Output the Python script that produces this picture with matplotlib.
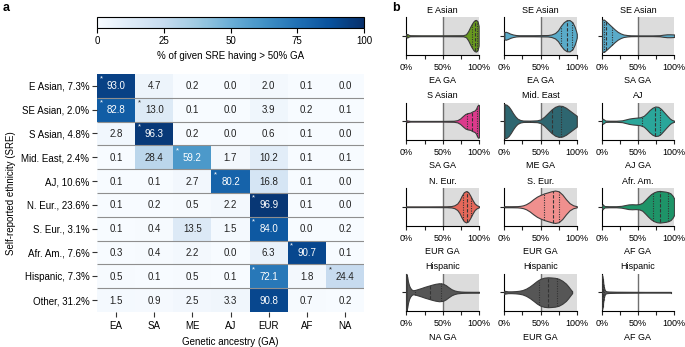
"""
Two-panel figure: (a) heatmap of % of each self-reported ethnicity (SRE)
having > 50% of a given genetic ancestry (GA); (b) small violin plots of the
GA fraction for the starred cells.
"""

import matplotlib

matplotlib.use("Agg")  # headless
import matplotlib.pyplot as plt
import numpy as np


# ---------- Configuration -----------------------------------------------------

FIG_W, FIG_H, DPI = 685, 347, 100
OUT_PNG = "out.png"
SMALL_FS = 6.5  # text size in panel b

plt.rcParams["font.family"] = ["Liberation Sans", "DejaVu Sans"]
plt.rcParams["font.size"] = 7
plt.rcParams["axes.linewidth"] = 0.8


# ---------- Data: panel a -----------------------------------------------------

SRE_LABELS = [
    "E Asian, 7.3%", "SE Asian, 2.0%", "S Asian, 4.8%", "Mid. East, 2.4%",
    "AJ, 10.6%", "N. Eur., 23.6%", "S. Eur., 3.1%", "Afr. Am., 7.6%",
    "Hispanic, 7.3%", "Other, 31.2%",
]
GA_LABELS = ["EA", "SA", "ME", "AJ", "EUR", "AF", "NA"]

PCT_E_ASIAN = [93.0, 4.7, 0.2, 0.0, 2.0, 0.1, 0.0]
PCT_SE_ASIAN = [82.8, 13.0, 0.1, 0.0, 3.9, 0.2, 0.1]
PCT_S_ASIAN = [2.8, 96.3, 0.2, 0.0, 0.6, 0.1, 0.0]
PCT_MID_EAST = [0.1, 28.4, 59.2, 1.7, 10.2, 0.1, 0.1]
PCT_AJ = [0.1, 0.1, 2.7, 80.2, 16.8, 0.1, 0.0]
PCT_N_EUR = [0.1, 0.2, 0.5, 2.2, 96.9, 0.1, 0.0]
PCT_S_EUR = [0.1, 0.4, 13.5, 1.5, 84.0, 0.0, 0.2]
PCT_AFR_AM = [0.3, 0.4, 2.2, 0.0, 6.3, 90.7, 0.1]
PCT_HISPANIC = [0.5, 0.1, 0.5, 0.1, 72.1, 1.8, 24.4]
PCT_OTHER = [1.5, 0.9, 2.5, 3.3, 90.8, 0.7, 0.2]

# (row, col) of cells marked with an asterisk (shown in panel b)
STAR_CELLS = [(0, 0), (1, 0), (1, 1), (2, 1), (3, 2), (4, 3),
              (5, 4), (6, 4), (7, 5), (8, 4), (8, 6)]


# ---------- Data: panel b (violin outlines) -----------------------------------
# x = GA %, w = relative half-width of the violin at that GA %

V1_X = [0, 1, 3, 5, 20, 50, 78, 82, 85, 88, 90, 92, 94, 96, 98, 99.5]
V1_W = [0.08, 0.1, 0.05, 0.03, 0.025, 0.025, 0.03, 0.08, 0.25, 0.5, 0.65,
        0.78, 0.86, 0.88, 0.8, 0.55]
V1_Q = [90, 94, 97]

V2_X = [0, 2, 5, 8, 12, 16, 20, 40, 60, 65, 70, 74, 78, 82, 86, 90, 94, 97,
        99, 100]
V2_W = [0.2, 0.22, 0.18, 0.12, 0.07, 0.04, 0.03, 0.03, 0.04, 0.07, 0.15, 0.3,
        0.55, 0.75, 0.86, 0.87, 0.75, 0.5, 0.25, 0.1]
V2_Q = [78, 87, 93]

V3_X = [0, 3, 6, 10, 14, 18, 22, 26, 30, 35, 40, 50, 60, 70, 80, 85, 90, 95,
        100]
V3_W = [0.88, 0.9, 0.8, 0.65, 0.5, 0.35, 0.22, 0.13, 0.07, 0.04, 0.025,
        0.02, 0.02, 0.02, 0.03, 0.06, 0.08, 0.08, 0.07]
V3_Q = [3, 6, 14]

V4_X = [0, 2, 5, 20, 50, 65, 70, 74, 78, 81, 84, 88, 91, 94, 96, 97.5, 99,
        100]
V4_W = [0.05, 0.04, 0.02, 0.02, 0.02, 0.03, 0.06, 0.15, 0.3, 0.4, 0.45, 0.48,
        0.55, 0.6, 0.7, 0.85, 0.92, 0.9]
V4_Q = [84, 91, 97]

V5_X = [0, 3, 6, 9, 12, 15, 18, 22, 26, 35, 45, 50, 55, 60, 65, 70, 75, 80,
        85, 90, 95, 100]
V5_W = [0.95, 0.92, 0.82, 0.65, 0.45, 0.28, 0.15, 0.07, 0.04, 0.035, 0.05,
        0.1, 0.25, 0.45, 0.65, 0.8, 0.87, 0.85, 0.75, 0.6, 0.45, 0.3]
V5_Q = [35, 66, 78]

V6_X = [0, 1.5, 3, 5, 10, 20, 28, 33, 38, 43, 48, 53, 58, 62, 66, 70, 74, 78,
        82, 86, 90, 94, 97, 100]
V6_W = [0.12, 0.14, 0.1, 0.04, 0.03, 0.03, 0.05, 0.1, 0.15, 0.18, 0.2, 0.22,
        0.3, 0.45, 0.62, 0.75, 0.82, 0.8, 0.68, 0.5, 0.32, 0.15, 0.07, 0.03]
V6_Q = [55, 73, 80]

V7_X = [0, 30, 55, 62, 66, 70, 73, 76, 79, 82, 85, 88, 91, 94, 97, 100]
V7_W = [0.02, 0.02, 0.025, 0.04, 0.08, 0.18, 0.35, 0.6, 0.8, 0.87, 0.82,
        0.62, 0.38, 0.18, 0.08, 0.03]
V7_Q = [78, 83, 89]

V8_X = [0, 10, 18, 22, 26, 30, 35, 40, 45, 50, 55, 60, 65, 70, 75, 80, 85, 90,
        95, 100]
V8_W = [0.03, 0.03, 0.035, 0.05, 0.08, 0.14, 0.26, 0.42, 0.56, 0.66, 0.74,
        0.8, 0.86, 0.9, 0.86, 0.68, 0.42, 0.2, 0.08, 0.03]
V8_Q = [55, 67, 75]

V9_X = [0, 1, 2, 4, 10, 20, 27, 32, 37, 42, 47, 52, 56, 60, 64, 68, 72, 76,
        80, 84, 88, 92, 95, 98, 100]
V9_W = [0.12, 0.15, 0.1, 0.04, 0.03, 0.03, 0.05, 0.09, 0.13, 0.14, 0.13,
        0.15, 0.22, 0.38, 0.55, 0.7, 0.8, 0.86, 0.88, 0.86, 0.84, 0.8, 0.74,
        0.6, 0.45]
V9_Q = [71, 81, 91]

V10_X = [0, 1, 2, 3.5, 5, 7, 9, 12, 16, 20, 25, 30, 35, 40, 45, 50, 54, 58,
         62, 66, 70, 75, 80, 90, 100]
V10_W = [1.0, 0.85, 0.6, 0.38, 0.25, 0.15, 0.11, 0.13, 0.18, 0.23, 0.3, 0.36,
         0.42, 0.47, 0.5, 0.48, 0.4, 0.28, 0.17, 0.1, 0.06, 0.04, 0.03,
         0.025, 0.025]
V10_Q = [12, 33, 47]

V11_X = [0, 2, 5, 10, 15, 20, 25, 30, 35, 40, 45, 50, 55, 60, 65, 70, 75, 80,
         85, 88, 91, 93.5]
V11_W = [0.08, 0.07, 0.05, 0.05, 0.06, 0.08, 0.12, 0.2, 0.32, 0.47, 0.63,
         0.75, 0.81, 0.83, 0.82, 0.8, 0.75, 0.64, 0.48, 0.34, 0.18, 0.05]
V11_Q = [48, 60, 72]

V12_X = [0, 0.8, 1.5, 2.2, 3, 4, 5, 7, 10, 20, 40, 60, 80, 95]
V12_W = [0.95, 0.92, 0.75, 0.5, 0.28, 0.15, 0.08, 0.05, 0.04, 0.03, 0.025,
         0.02, 0.02, 0.02]
V12_Q = [0.5, 1.2, 2.5]

VIOLIN_TITLES = ["E Asian", "SE Asian", "SE Asian", "S Asian", "Mid. East",
                 "AJ", "N. Eur.", "S. Eur.", "Afr. Am.", "Hispanic",
                 "Hispanic", "Hispanic"]
VIOLIN_XLABELS = ["EA GA", "EA GA", "SA GA", "SA GA", "ME GA", "AJ GA",
                  "EUR GA", "EUR GA", "AF GA", "NA GA", "EUR GA", "AF GA"]
VIOLIN_COLORS = ["#68991f", "#5aabc9", "#5aabc9", "#dc3a8c", "#2e6670",
                 "#2aa69a", "#e5685a", "#f0908e", "#1e9468", "#565656",
                 "#565656", "#565656"]
VIOLIN_SHADED = [True] * 11 + [False]

VIOLIN_X = [V1_X, V2_X, V3_X, V4_X, V5_X, V6_X, V7_X, V8_X, V9_X, V10_X,
            V11_X, V12_X]
VIOLIN_W = [V1_W, V2_W, V3_W, V4_W, V5_W, V6_W, V7_W, V8_W, V9_W, V10_W,
            V11_W, V12_W]
VIOLIN_Q = [V1_Q, V2_Q, V3_Q, V4_Q, V5_Q, V6_Q, V7_Q, V8_Q, V9_Q, V10_Q,
            V11_Q, V12_Q]


# ---------- Layout helpers ----------------------------------------------------

def px_box(left, top, right, bottom):
    """Pixel box (from top-left) -> figure-fraction [l, b, w, h]."""
    return [left / FIG_W, 1 - bottom / FIG_H,
            (right - left) / FIG_W, (bottom - top) / FIG_H]


# ---------- Panel a -----------------------------------------------------------

def draw_heatmap(fig):
    pct = np.array([PCT_E_ASIAN, PCT_SE_ASIAN, PCT_S_ASIAN, PCT_MID_EAST,
                    PCT_AJ, PCT_N_EUR, PCT_S_EUR, PCT_AFR_AM, PCT_HISPANIC,
                    PCT_OTHER])
    ax = fig.add_axes(px_box(97, 74, 364, 312))
    im = ax.imshow(pct, cmap="Blues", vmin=0, vmax=100, aspect="auto",
                   interpolation="nearest")
    n_rows, n_cols = pct.shape

    for r in range(n_rows):
        for c in range(n_cols):
            v = pct[r, c]
            color = "white" if v > 50 else "#222222"
            ax.text(c, r + 0.02, f"{v:.1f}", ha="center", va="center",
                    color=color, fontsize=7)
    for r, c in STAR_CELLS:
        color = "white" if pct[r, c] > 50 else "#222222"
        ax.text(c - 0.43, r - 0.28, "*", ha="left", va="center",
                color=color, fontsize=5.5)

    # gray row separators
    ax.hlines(np.arange(n_rows - 1) + 0.5, -0.5, n_cols - 0.5,
              color="#8f8f8f", lw=0.8)

    for s in ax.spines.values():
        s.set_visible(False)
    ax.set_xticks(range(n_cols))
    ax.set_xticklabels(GA_LABELS)
    ax.set_yticks(range(n_rows))
    ax.set_yticklabels(SRE_LABELS)
    ax.tick_params(length=3.5, width=0.8, pad=2, color="#333333")
    ax.tick_params(axis="x", pad=3)
    ax.set_xlabel("Genetic ancestry (GA)", labelpad=4)
    ax.set_ylabel("Self-reported ethnicity (SRE)", labelpad=4)

    cax = fig.add_axes(px_box(97, 17, 364, 28))
    cb = fig.colorbar(im, cax=cax, orientation="horizontal")
    cb.set_ticks([0, 25, 50, 75, 100])
    cb.outline.set_linewidth(0.8)
    cax.tick_params(length=3.5, width=0.8, pad=2)
    cb.set_label("% of given SRE having > 50% GA", labelpad=4)

    fig.text(3 / FIG_W, 1 - 8 / FIG_H, "a", fontsize=9, fontweight="bold",
             va="center", ha="left")


# ---------- Panel b -----------------------------------------------------------

def draw_violin(ax, xs, ws, qs, color, shaded):
    xs = np.asarray(xs, dtype=float)
    ws = np.asarray(ws, dtype=float) * 0.48
    if shaded:
        ax.axvspan(50, 100, color="#dcdcdc", lw=0, zorder=0)
    ax.axvline(50, color="#707070", lw=1.0, zorder=1)
    ax.fill_between(xs, -ws, ws, facecolor=color, edgecolor="#3c3c3c",
                    lw=0.8, zorder=2)
    # close the flat ends as seaborn does with cut=0
    for xe, we in ((xs[0], ws[0]), (xs[-1], ws[-1])):
        ax.plot([xe, xe], [-we, we], color="#3c3c3c", lw=0.8, zorder=3)
    for i, q in enumerate(qs):
        h = np.interp(q, xs, ws)
        ls = (0, (3, 1.5)) if i == 1 else (0, (1, 1.2))
        ax.plot([q, q], [-h, h], color="#333333", lw=0.8, ls=ls, zorder=3)

    ax.set_xlim(0, 100)
    ax.set_ylim(-0.5, 0.5)
    ax.set_xticks([0, 25, 50, 75, 100])
    ax.set_xticklabels(["0%", "", "50%", "", "100%"])
    ax.set_yticks([0])
    ax.set_yticklabels([])
    ax.tick_params(length=3, width=0.8, pad=3, color="#222222",
                   labelsize=SMALL_FS)
    for side in ("top", "right"):
        ax.spines[side].set_visible(False)


def draw_violins(fig):
    col_lefts = [406.5, 504.3, 601.7]
    row_tops = [17, 102.5, 188, 273.5]
    w_px, h_px = 72.5, 37.5
    for i in range(len(VIOLIN_TITLES)):
        r, c = divmod(i, 3)
        l, t = col_lefts[c], row_tops[r]
        ax = fig.add_axes(px_box(l, t, l + w_px, t + h_px))
        draw_violin(ax, VIOLIN_X[i], VIOLIN_W[i], VIOLIN_Q[i],
                    VIOLIN_COLORS[i], VIOLIN_SHADED[i])
        ax.set_title(VIOLIN_TITLES[i], fontsize=SMALL_FS, pad=3)
        ax.set_xlabel(VIOLIN_XLABELS[i], fontsize=SMALL_FS, labelpad=3)

    fig.text(392 / FIG_W, 1 - 8 / FIG_H, "b", fontsize=9, fontweight="bold",
             va="center", ha="left")


# ---------- Orchestration -----------------------------------------------------

def run():
    fig = plt.figure(figsize=(FIG_W / DPI, FIG_H / DPI), dpi=DPI)
    draw_heatmap(fig)
    draw_violins(fig)
    fig.savefig(OUT_PNG, dpi=DPI)
    plt.close(fig)


if __name__ == "__main__":
    run()
